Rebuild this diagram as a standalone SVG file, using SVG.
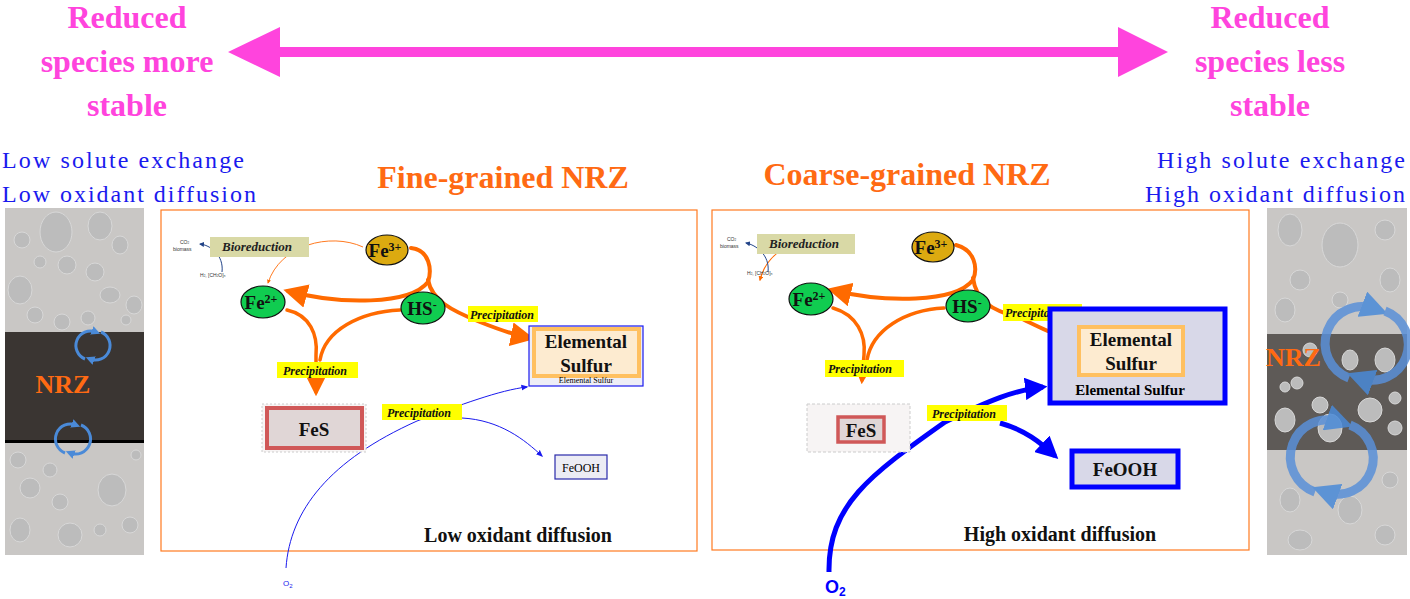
<svg xmlns="http://www.w3.org/2000/svg" width="1410" height="599" viewBox="0 0 1410 599">
<defs>
<style>
.mag{font:bold 32px "Liberation Serif",serif;fill:#ff44dd;text-anchor:middle}
.blu{font:24px "Liberation Serif",serif;fill:#1a1aee}
.ttl{font:bold 32px "Liberation Serif",serif;fill:#ff6a13;text-anchor:middle}
.pan{fill:#fff;stroke:#ff7a20;stroke-width:1.2}
.bio{fill:#d9d9a6}
.biot{font:italic bold 13px "Liberation Serif",serif;fill:#222}
.tiny{font:5px "Liberation Sans",sans-serif;fill:#333}
.ion{font:bold 19px "Liberation Serif",serif;fill:#111;text-anchor:middle}
.sup{font-size:12px}
.e3{fill:#dcaa10;stroke:#111;stroke-width:1.2}
.e2{fill:#10cc50;stroke:#111;stroke-width:1.2}
.pl{fill:#ffff00}
.plt{font:italic bold 12px "Liberation Serif",serif;fill:#111}
.bt{font:bold 19px "Liberation Serif",serif;fill:#111;text-anchor:middle}
.foot{font:bold 20px "Liberation Serif",serif;fill:#111;text-anchor:middle}
.oa{fill:none;stroke:#ff6a00;stroke-linecap:round}
.g{fill:#c9c7c5}
.gc{fill:#bcbcbc;stroke:#d8d8d8;stroke-width:1}
.nrz{font:bold 26px "Liberation Serif",serif;fill:#ff6a13}
.cyc{fill:none;stroke:#4a8ad8;stroke-width:3}
</style>
<marker id="ao" viewBox="0 0 10 10" refX="8" refY="5" markerWidth="4" markerHeight="4" orient="auto"><path d="M0,0L10,5L0,10z" fill="#ff6a00"/></marker>
<marker id="aot" viewBox="0 0 10 10" refX="8" refY="5" markerWidth="6" markerHeight="6" orient="auto"><path d="M0,0L10,5L0,10z" fill="#ff6a00"/></marker>
<marker id="ab" viewBox="0 0 10 10" refX="8" refY="5" markerWidth="7" markerHeight="7" orient="auto"><path d="M0,1L10,5L0,9z" fill="#1a1aee"/></marker>
<marker id="abt" viewBox="0 0 10 10" refX="8" refY="5" markerWidth="4.5" markerHeight="4.5" orient="auto"><path d="M0,0L10,5L0,10z" fill="#0000ff"/></marker>
<marker id="an" viewBox="0 0 10 10" refX="8" refY="5" markerWidth="5" markerHeight="5" orient="auto"><path d="M0,0L10,5L0,10z" fill="#224488"/></marker>
<marker id="ar" viewBox="0 0 10 10" refX="8" refY="5" markerWidth="4" markerHeight="4" orient="auto"><path d="M0,0L10,5L0,10z" fill="#c84838"/></marker>
<marker id="cy" viewBox="0 0 10 10" refX="5" refY="5" markerWidth="3" markerHeight="3" orient="auto"><path d="M0,0L10,5L0,10z" fill="#4a8ad8"/></marker>
</defs>

<g id="left-label"><text class="mag" x="127" y="28">Reduced</text><text class="mag" x="127" y="72">species more</text><text class="mag" x="127" y="116">stable</text></g>
<g id="right-label"><text class="mag" x="1270" y="28">Reduced</text><text class="mag" x="1270" y="72">species less</text><text class="mag" x="1270" y="116">stable</text></g>
<g id="top-arrow"><path d="M228,52L280,27L280,47L1118,47L1118,27L1168,52L1118,77L1118,57L280,57L280,77z" fill="#ff44dd"/></g>

<text class="blu" x="2" y="168" textLength="242">Low solute exchange</text>
<text class="blu" x="2" y="202" textLength="254">Low oxidant diffusion</text>
<text class="blu" x="1157" y="168" textLength="248">High solute exchange</text>
<text class="blu" x="1145" y="202" textLength="260">High oxidant diffusion</text>
<text class="ttl" x="503" y="188">Fine-grained NRZ</text>
<text class="ttl" x="907" y="185">Coarse-grained NRZ</text>

<g id="left-column">
<rect class="g" x="5" y="208" width="139" height="347"/>
<g class="gc">
<ellipse cx="56" cy="232" rx="16" ry="20"/><ellipse cx="100" cy="226" rx="12" ry="14"/><ellipse cx="22" cy="240" rx="8" ry="8"/><ellipse cx="120" cy="245" rx="8" ry="9"/><ellipse cx="67" cy="265" rx="9" ry="9"/><ellipse cx="40" cy="262" rx="6" ry="6"/><ellipse cx="95" cy="272" rx="9" ry="9"/><ellipse cx="20" cy="290" rx="12" ry="14"/><ellipse cx="110" cy="295" rx="10" ry="8"/><ellipse cx="134" cy="305" rx="8" ry="9"/><ellipse cx="35" cy="315" rx="8" ry="8"/><ellipse cx="62" cy="322" rx="8" ry="8"/><ellipse cx="88" cy="318" rx="7" ry="7"/><ellipse cx="126" cy="320" rx="5" ry="5"/>
<ellipse cx="18" cy="460" rx="8" ry="8"/><ellipse cx="30" cy="488" rx="10" ry="10"/><ellipse cx="112" cy="490" rx="14" ry="16"/><ellipse cx="60" cy="502" rx="8" ry="8"/><ellipse cx="20" cy="530" rx="10" ry="12"/><ellipse cx="70" cy="535" rx="12" ry="12"/><ellipse cx="130" cy="525" rx="8" ry="8"/><ellipse cx="100" cy="530" rx="6" ry="6"/><ellipse cx="136" cy="455" rx="5" ry="5"/><ellipse cx="50" cy="470" rx="7" ry="7"/>
</g>
<rect x="5" y="332" width="139" height="109" fill="#3a3532"/>
<rect x="5" y="440" width="139" height="3" fill="#000"/>
<text class="nrz" x="63" y="393" text-anchor="middle">NRZ</text>
<path class="cyc" d="M85,359A14,14 0 0 1 96,332" marker-end="url(#cy)"/><path class="cyc" d="M101,332A14,14 0 0 1 90,359" marker-end="url(#cy)"/>
<path class="cyc" d="M65,453A14,14 0 0 1 76,425" marker-end="url(#cy)"/><path class="cyc" d="M81,425A14,14 0 0 1 70,453" marker-end="url(#cy)"/>
</g>

<g id="right-column">
<rect class="g" x="1267" y="208" width="140" height="347"/>
<rect x="1267" y="334" width="140" height="116" fill="#5e5a57"/>
<g class="gc">
<ellipse cx="1290" cy="230" rx="12" ry="16"/><ellipse cx="1340" cy="245" rx="18" ry="22"/><ellipse cx="1385" cy="230" rx="10" ry="10"/><ellipse cx="1300" cy="280" rx="10" ry="10"/><ellipse cx="1390" cy="280" rx="10" ry="12"/><ellipse cx="1285" cy="310" rx="10" ry="12"/><ellipse cx="1340" cy="300" rx="8" ry="8"/>
<ellipse cx="1285" cy="387" rx="5" ry="5"/><ellipse cx="1297" cy="383" rx="6" ry="6"/><ellipse cx="1320" cy="405" rx="8" ry="8"/><ellipse cx="1285" cy="420" rx="10" ry="12"/><ellipse cx="1330" cy="428" rx="12" ry="14"/><ellipse cx="1370" cy="410" rx="12" ry="12"/><ellipse cx="1395" cy="398" rx="6" ry="6"/><ellipse cx="1395" cy="428" rx="7" ry="7"/><ellipse cx="1350" cy="360" rx="8" ry="10"/><ellipse cx="1385" cy="360" rx="10" ry="12"/><ellipse cx="1310" cy="350" rx="7" ry="7"/>
<ellipse cx="1290" cy="500" rx="10" ry="12"/><ellipse cx="1350" cy="510" rx="12" ry="14"/><ellipse cx="1390" cy="480" rx="8" ry="8"/><ellipse cx="1300" cy="540" rx="12" ry="10"/><ellipse cx="1385" cy="535" rx="10" ry="10"/>
</g>
<text class="nrz" x="1266" y="366">NRZ</text>
<g opacity="0.85"><path d="M1349,378A32,32 0 0 1 1375,309" fill="none" stroke="#5a90d8" stroke-width="9" marker-end="url(#cy)"/><path d="M1385,311A32,32 0 0 1 1360,378" fill="none" stroke="#5a90d8" stroke-width="9" marker-end="url(#cy)"/>
<path d="M1315,492A32,32 0 0 1 1340,422" fill="none" stroke="#5a90d8" stroke-width="9" marker-end="url(#cy)"/><path d="M1350,425A32,32 0 0 1 1325,492" fill="none" stroke="#5a90d8" stroke-width="9" marker-end="url(#cy)"/></g>
</g>

<rect class="pan" x="161" y="210" width="536" height="341"/>
<rect class="pan" x="712" y="210" width="537" height="340"/>

<g id="connectors">
<path d="M222,272C224,255 210,245 200,244" fill="none" stroke="#224488" stroke-width="1" marker-end="url(#an)"/>
<path d="M363,247C330,232 280,245 268,283" fill="none" stroke="#ff7a20" stroke-width="1" marker-end="url(#ao)"/>
<path class="oa" stroke-width="4" d="M411,248C430,250 432,270 428,282C410,305 340,305 288,291" marker-end="url(#aot)"/>
<path class="oa" stroke-width="4" d="M428,280C432,300 450,310 480,322C500,330 515,335 530,338" marker-end="url(#aot)"/>
<path class="oa" stroke-width="3.5" d="M287,310C310,315 318,335 316,355L316,392" marker-end="url(#aot)"/>
<path class="oa" stroke-width="3.5" d="M400,310C360,312 325,330 320,360"/>
<path d="M286,568C290,510 330,460 417,421C460,405 500,390 527,387" fill="none" stroke="#1a1aee" stroke-width="1" marker-end="url(#ab)"/>
<path d="M462,418C500,420 525,440 542,456" fill="none" stroke="#1a1aee" stroke-width="1" marker-end="url(#ab)"/>
<path class="oa" stroke-width="1.2" d="M852,246C820,232 770,240 760,280" stroke="#ff7a20" marker-end="url(#ao)"/>
<path d="M768,272C770,255 756,245 746,243" fill="none" stroke="#224488" stroke-width="1" marker-end="url(#an)"/>
<path class="oa" stroke-width="4" d="M956,245C975,250 978,268 973,280C955,303 885,303 832,290" marker-end="url(#aot)"/>
<path class="oa" stroke-width="4" d="M973,278C976,300 990,310 1020,318C1035,325 1045,330 1048,331"/>
<path d="M1052,332L1075,337" stroke="#c84838" stroke-width="3" marker-end="url(#ar)"/>
<path class="oa" stroke-width="3.5" d="M833,308C857,315 866,335 864,355L862,380" marker-end="url(#aot)"/>
<path class="oa" stroke-width="3.5" d="M944,308C905,310 872,330 867,360"/>
<path d="M829,572C828,505 870,475 945,422C990,400 1015,390 1043,387" fill="none" stroke="#0000ff" stroke-width="5" marker-end="url(#abt)"/>
<path d="M1000,423C1025,430 1040,442 1055,456" fill="none" stroke="#0000ff" stroke-width="5" marker-end="url(#abt)"/>
</g>

<g id="bio1"><rect class="bio" x="210" y="237" width="99" height="20"/><text class="biot" x="222" y="251">Bioreduction</text></g>
<text class="tiny" x="180" y="244">CO<tspan font-size="3">2</tspan></text><text class="tiny" x="173" y="251">biomass</text><text class="tiny" x="200" y="277">H<tspan font-size="3">2</tspan>, [CH<tspan font-size="3">2</tspan>O]<tspan font-size="3">n</tspan></text>
<g id="fe3a"><ellipse class="e3" cx="387" cy="250" rx="21" ry="15"/><text class="ion" x="385" y="257">Fe<tspan class="sup" dy="-6">3+</tspan></text></g>
<g id="fe2a"><ellipse class="e2" cx="263" cy="302" rx="22" ry="16"/><text class="ion" x="261" y="309">Fe<tspan class="sup" dy="-6">2+</tspan></text></g>
<g id="hsa"><ellipse class="e2" cx="423" cy="308" rx="22" ry="16"/><text class="ion" x="422" y="315">HS<tspan class="sup" dy="-6">-</tspan></text></g>
<g><rect class="pl" x="468" y="306" width="70" height="16"/><text class="plt" x="470" y="319">Precipitation</text></g>
<g><rect class="pl" x="277" y="362" width="81" height="16"/><text class="plt" x="283" y="375">Precipitation</text></g>
<g><rect class="pl" x="382" y="404" width="80" height="16"/><text class="plt" x="387" y="417">Precipitation</text></g>
<g id="s1"><rect x="529" y="326" width="114" height="60" fill="#eeeef6" stroke="#1a1aee" stroke-width="1.2"/><rect x="534" y="329" width="105" height="47" fill="#fdebd0" stroke="#ffc060" stroke-width="4"/><text class="bt" x="586" y="348">Elemental</text><text class="bt" x="586" y="372">Sulfur</text><text x="586" y="383" font-family="Liberation Serif,serif" font-size="8" text-anchor="middle">Elemental Sulfur</text></g>
<g id="fes1"><rect x="262" y="404" width="104" height="48" fill="#f7f4f4" stroke="#ccc" stroke-dasharray="2,2"/><rect x="267" y="408" width="95" height="40" fill="#e0d6d6" stroke="#d05858" stroke-width="4"/><text class="bt" x="314" y="436">FeS</text></g>
<g id="feooh1"><rect x="555" y="455" width="52" height="24" fill="#ececf4" stroke="#2a2aaa" stroke-width="1.2"/><text x="581" y="472" font-family="Liberation Serif,serif" font-size="12" text-anchor="middle">FeOOH</text></g>
<text x="283" y="586" font-family="Liberation Sans,sans-serif" font-size="8" fill="#1a1aee">O<tspan font-size="6" dy="2">2</tspan></text>
<text class="foot" x="518" y="542">Low oxidant diffusion</text>

<g id="bio2"><rect class="bio" x="757" y="234" width="98" height="20"/><text class="biot" x="769" y="248">Bioreduction</text></g>
<text class="tiny" x="727" y="241">CO<tspan font-size="3">2</tspan></text><text class="tiny" x="720" y="248">biomass</text><text class="tiny" x="747" y="275">H<tspan font-size="3">2</tspan>, [CH<tspan font-size="3">2</tspan>O]<tspan font-size="3">n</tspan></text>
<g id="fe3b"><ellipse class="e3" cx="933" cy="247" rx="21" ry="15"/><text class="ion" x="931" y="254">Fe<tspan class="sup" dy="-6">3+</tspan></text></g>
<g id="fe2b"><ellipse class="e2" cx="811" cy="299" rx="22" ry="16"/><text class="ion" x="809" y="306">Fe<tspan class="sup" dy="-6">2+</tspan></text></g>
<g id="hsb"><ellipse class="e2" cx="968" cy="306" rx="22" ry="16"/><text class="ion" x="967" y="313">HS<tspan class="sup" dy="-6">-</tspan></text></g>
<g><rect class="pl" x="1003" y="304" width="79" height="17"/><text class="plt" x="1005" y="317">Precipitation</text></g>
<g><rect class="pl" x="825" y="360" width="79" height="17"/><text class="plt" x="828" y="373">Precipitation</text></g>
<g><rect class="pl" x="927" y="405" width="80" height="16"/><text class="plt" x="932" y="418">Precipitation</text></g>
<g id="s2"><rect x="1050" y="309" width="175" height="94" fill="#d8d8e8" stroke="#0000ff" stroke-width="5"/><rect x="1079" y="327" width="104" height="48" fill="#fdebd0" stroke="#ffc060" stroke-width="4"/><text class="bt" x="1131" y="346">Elemental</text><text class="bt" x="1131" y="370">Sulfur</text><text x="1130" y="395" font-family="Liberation Serif,serif" font-size="15" font-weight="bold" text-anchor="middle">Elemental Sulfur</text></g>
<g id="fes2"><rect x="807" y="404" width="103" height="48" fill="#f7f4f4" stroke="#ccc" stroke-dasharray="3,2"/><rect x="838" y="417" width="46" height="25" fill="#e0d6d6" stroke="#d05858" stroke-width="3.5"/><text class="bt" x="861" y="437">FeS</text></g>
<g id="feooh2"><rect x="1072" y="451" width="106" height="36" fill="#d8d8e8" stroke="#0000ff" stroke-width="5"/><text class="bt" x="1125" y="476">FeOOH</text></g>
<text x="825" y="593" font-family="Liberation Sans,sans-serif" font-size="18" font-weight="bold" fill="#0000ff">O<tspan font-size="12" dy="3">2</tspan></text>
<text class="foot" x="1060" y="541">High oxidant diffusion</text>
</svg>
